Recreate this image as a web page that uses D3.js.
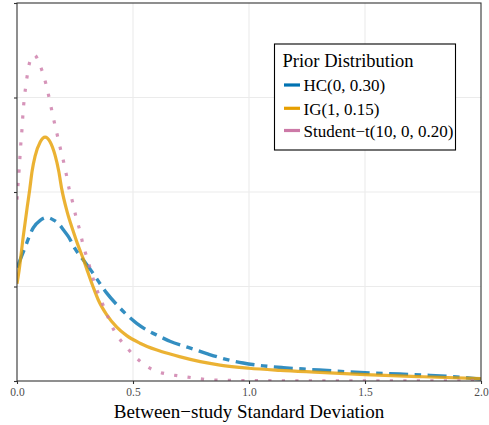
<!DOCTYPE html>
<html>
<head>
<meta charset="utf-8">
<script src="https://cdn.jsdelivr.net/npm/d3@7"></script>
<style>
  html, body { margin: 0; padding: 0; background: #ffffff; }
  svg { display: block; }
</style>
</head>
<body>
<div id="chart"></div>
<script>
// Posterior density of the between-study SD under three priors
const seriesNames = ["HC(0, 0.30)", "IG(1, 0.15)", "Student\u2212t(10, 0, 0.20)"];

const hcX = [0, 0.01, 0.042, 0.056, 0.07, 0.1, 0.13, 0.16, 0.185, 0.2, 0.221, 0.25, 0.286, 0.322, 0.358, 0.387, 0.437, 0.473, 0.516, 0.559, 0.616, 0.659, 0.738, 0.818, 0.897, 0.975, 1.062, 1.148, 1.234, 1.303, 1.5, 1.65, 1.78, 1.91, 2.0];
const hcY = [1.2, 1.26, 1.46, 1.55, 1.62, 1.70, 1.73, 1.70, 1.65, 1.60, 1.53, 1.40, 1.28, 1.16, 1.03, 0.93, 0.79, 0.70, 0.61, 0.54, 0.47, 0.42, 0.355, 0.29, 0.232, 0.19, 0.16, 0.141, 0.127, 0.116, 0.088, 0.074, 0.06, 0.04, 0.02];

const igX = [0, 0.009, 0.027, 0.044, 0.055, 0.065, 0.078, 0.1, 0.121, 0.143, 0.164, 0.18, 0.193, 0.215, 0.243, 0.264, 0.286, 0.307, 0.329, 0.35, 0.387, 0.43, 0.473, 0.53, 0.6, 0.66, 0.7, 0.79, 0.875, 1.0, 1.134, 1.306, 1.5, 1.75, 2.0];
const igY = [1.03, 1.17, 1.53, 1.84, 2.03, 2.22, 2.38, 2.53, 2.58, 2.53, 2.39, 2.22, 2.03, 1.80, 1.58, 1.43, 1.29, 1.14, 0.99, 0.86, 0.70, 0.57, 0.48, 0.40, 0.33, 0.285, 0.258, 0.205, 0.168, 0.135, 0.113, 0.092, 0.068, 0.045, 0.025];

const stX = [0, 0.004, 0.009, 0.013, 0.017, 0.022, 0.026, 0.031, 0.039, 0.047, 0.063, 0.075, 0.098, 0.116, 0.132, 0.145, 0.158, 0.172, 0.185, 0.2, 0.213, 0.225, 0.24, 0.254, 0.27, 0.284, 0.302, 0.319, 0.336, 0.358, 0.382, 0.405, 0.435, 0.471, 0.512, 0.556, 0.605, 0.655, 0.71, 0.77, 0.82, 0.88, 0.94, 1.0, 1.2, 1.5, 2.0];
const stY = [1.92, 2.07, 2.23, 2.38, 2.53, 2.68, 2.84, 2.98, 3.14, 3.28, 3.43, 3.45, 3.35, 3.22, 3.07, 2.92, 2.77, 2.62, 2.48, 2.33, 2.18, 2.03, 1.89, 1.74, 1.60, 1.45, 1.30, 1.16, 1.02, 0.88, 0.74, 0.60, 0.47, 0.36, 0.25, 0.16, 0.10, 0.07, 0.05, 0.03, 0.015, 0.008, 0.005, 0.004, 0.002, 0.001, 0.0005];

const xTicks = [0, 0.5, 1.0, 1.5, 2.0];
const yTicks = [0, 1, 2, 3, 4];
const xGrid = [0.5, 1.0, 1.5];
const yGrid = [1, 2, 3];

const colors = ["#0072B2", "#E69F00", "#CC79A7"];
const dashes = ["19,6.5,6.5,6.5", null, "3.2,10.3"];

const W = 489, H = 425;
const M = { left: 17, right: 8, top: 3, bottom: 44 };

const svg = d3.select("#chart").append("svg")
  .attr("width", W).attr("height", H);

const x = d3.scaleLinear().domain([0, 2]).range([M.left, W - M.right]);
const y = d3.scaleLinear().domain([0, 4]).range([H - M.bottom, M.top]);

// grid
const grid = svg.append("g").attr("stroke", "#ebebeb").attr("stroke-width", 1.1);
grid.selectAll("line.v").data(xGrid).join("line")
  .attr("x1", d => x(d)).attr("x2", d => x(d))
  .attr("y1", y(0)).attr("y2", y(4));
grid.selectAll("line.h").data(yGrid).join("line")
  .attr("x1", x(0)).attr("x2", x(2))
  .attr("y1", d => y(d)).attr("y2", d => y(d));

// clip to panel
svg.append("clipPath").attr("id", "panel")
  .append("rect")
  .attr("x", x(0)).attr("y", y(4))
  .attr("width", x(2) - x(0)).attr("height", y(0) - y(4));

const series = [
  { name: seriesNames[0], xs: hcX, ys: hcY },
  { name: seriesNames[1], xs: igX, ys: igY },
  { name: seriesNames[2], xs: stX, ys: stY }
];

const line = d3.line()
  .x(d => x(d[0]))
  .y(d => y(d[1]))
  .curve(d3.curveMonotoneX);

const curves = svg.append("g").attr("clip-path", "url(#panel)");
series.forEach((s, i) => {
  curves.append("path")
    .datum(d3.zip(s.xs, s.ys))
    .attr("d", line)
    .attr("fill", "none")
    .attr("stroke", colors[i])
    .attr("stroke-opacity", 0.8)
    .attr("stroke-width", i === 0 ? 3.4 : 3.2)
    .attr("stroke-dasharray", dashes[i])
    .attr("stroke-linecap", "butt");
});

// axes
const xAxis = svg.append("g")
  .attr("transform", `translate(0,${y(0)})`)
  .call(d3.axisBottom(x).tickValues(xTicks).tickFormat(d3.format(".1f")).tickSize(3).tickSizeOuter(0));
xAxis.select(".domain").remove();
xAxis.selectAll(".tick line").attr("stroke", "#333333").attr("stroke-width", 1.1);
xAxis.selectAll(".tick text")
  .attr("y", 14.7).attr("dy", null)
  .attr("fill", "#4d4d4d")
  .style("font-family", "'Liberation Serif', 'Times New Roman', serif")
  .style("font-size", "11.5px");

const yAxis = svg.append("g")
  .attr("transform", `translate(${x(0)},0)`)
  .call(d3.axisLeft(y).tickValues(yTicks).tickFormat("").tickSize(3).tickSizeOuter(0));
yAxis.select(".domain").remove();
yAxis.selectAll(".tick line").attr("stroke", "#333333").attr("stroke-width", 1.1);

// panel border
svg.append("rect")
  .attr("x", x(0)).attr("y", y(4))
  .attr("width", x(2) - x(0)).attr("height", y(0) - y(4))
  .attr("fill", "none").attr("stroke", "#333333").attr("stroke-width", 1.1);

// axis title
svg.append("text")
  .attr("x", (x(0) + x(2)) / 2).attr("y", 417.5)
  .attr("text-anchor", "middle")
  .attr("fill", "#000")
  .style("font-family", "'Liberation Serif', 'Times New Roman', serif")
  .style("font-size", "19px")
  .text("Between\u2212study Standard Deviation");

// legend
const lg = svg.append("g").attr("transform", "translate(274.5,44)");
lg.append("rect")
  .attr("width", 181).attr("height", 106)
  .attr("fill", "#fff").attr("stroke", "#000").attr("stroke-width", 1.1);
lg.append("text")
  .attr("x", 8).attr("y", 22.7)
  .style("font-family", "'Liberation Serif', 'Times New Roman', serif")
  .style("font-size", "18.5px")
  .text("Prior Distribution");
const rowY = [41, 64.3, 86.5];
series.forEach((s, i) => {
  lg.append("line")
    .attr("x1", 9.5).attr("x2", 25.5)
    .attr("y1", rowY[i]).attr("y2", rowY[i])
    .attr("stroke", colors[i]).attr("stroke-width", 3.2);
  lg.append("text")
    .attr("x", 29).attr("y", rowY[i] + 6.3)
    .style("font-family", "'Liberation Serif', 'Times New Roman', serif")
    .style("font-size", "17px")
    .text(s.name);
});
</script>
</body>
</html>
